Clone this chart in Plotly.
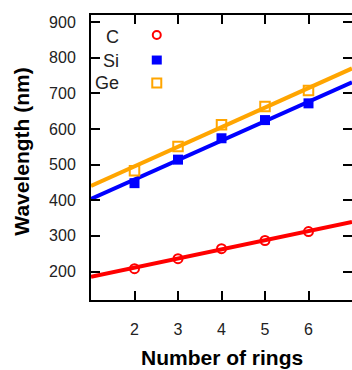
import plotly.graph_objects as go

rings = [2, 3, 4, 5, 6]
c_vals = [208, 236, 264, 287, 312]
si_vals = [448, 514, 574, 625, 672]
ge_vals = [483, 551, 612, 663, 708]

fit_x = [1, 7]
c_fit = [185, 339]
si_fit = [404, 731]
ge_fit = [440, 770]

x_ticks = [2, 3, 4, 5, 6]
y_ticks = [200, 300, 400, 500, 600, 700, 800, 900]

RED, BLUE, ORANGE = "#ff0000", "#0000ff", "#ffa500"
FONT = "Liberation Sans"

fig = go.Figure()
for fy, col in [(c_fit, RED), (si_fit, BLUE), (ge_fit, ORANGE)]:
    fig.add_trace(go.Scatter(x=fit_x, y=fy, mode="lines",
                             line=dict(color=col, width=4), showlegend=False))
fig.add_trace(go.Scatter(x=rings, y=c_vals, mode="markers", name="C",
                         marker=dict(symbol="circle-open", size=9, color=RED,
                                     line=dict(width=2, color=RED)), showlegend=False))
fig.add_trace(go.Scatter(x=rings, y=si_vals, mode="markers", name="Si",
                         marker=dict(symbol="square", size=10, color=BLUE), showlegend=False))
fig.add_trace(go.Scatter(x=rings, y=ge_vals, mode="markers", name="Ge",
                         marker=dict(symbol="square-open", size=9.5, color=ORANGE,
                                     line=dict(width=2, color=ORANGE)), showlegend=False))

# legend (text left, symbol right)
labels = ["C", "Si", "Ge"]
label_y = [0.924, 0.837, 0.76]
for t, yy in zip(labels, label_y):
    fig.add_annotation(text=t, xref="paper", yref="paper", x=0.115, y=yy,
                       xanchor="right", yanchor="middle", showarrow=False,
                       font=dict(family=FONT, size=18, color="#222"))
fig.add_shape(type="circle", xref="paper", yref="paper", xsizemode="pixel", ysizemode="pixel",
              xanchor=0.252, yanchor=0.93, x0=-4, x1=4, y0=-4, y1=4,
              line=dict(color=RED, width=2), fillcolor="rgba(0,0,0,0)")
fig.add_shape(type="rect", xref="paper", yref="paper", xsizemode="pixel", ysizemode="pixel",
              xanchor=0.252, yanchor=0.842, x0=-5, x1=5, y0=-4.5, y1=4.5,
              line=dict(color=BLUE, width=0), fillcolor=BLUE)
fig.add_shape(type="rect", xref="paper", yref="paper", xsizemode="pixel", ysizemode="pixel",
              xanchor=0.252, yanchor=0.761, x0=-4.5, x1=4.5, y0=-4.5, y1=4.5,
              line=dict(color=ORANGE, width=2), fillcolor="rgba(0,0,0,0)")

# axis titles
fig.add_annotation(text="<b>Number of rings</b>", xref="paper", yref="paper",
                   x=0.5, y=-0.2, xanchor="center", yanchor="middle", showarrow=False,
                   font=dict(family=FONT, size=21, color="black"))
fig.add_annotation(text="<b>Wavelength (nm)</b>", xref="paper", yref="paper",
                   x=-0.265, y=0.52, xanchor="center", yanchor="middle", textangle=-90,
                   showarrow=False, font=dict(family=FONT, size=21, color="black"))

axis_common = dict(showgrid=False, zeroline=False, showline=True, linecolor="black",
                   linewidth=2, mirror="allticks", ticks="inside", ticklen=9, tickwidth=2,
                   tickcolor="black", automargin=False,
                   tickfont=dict(family=FONT, size=16, color="#222"))

fig.update_layout(
    width=352, height=370,
    margin=dict(l=91, r=0, t=15, b=70),
    paper_bgcolor="white", plot_bgcolor="white",
    xaxis=dict(range=[1, 7], tickvals=x_ticks, ticklabelstandoff=14, **axis_common),
    yaxis=dict(range=[120, 920], tickvals=y_ticks, ticklabelstandoff=10, **axis_common),
)

fig.write_html("out.html", config={"displayModeBar": False},
               post_script="document.body.style.margin='0';")
